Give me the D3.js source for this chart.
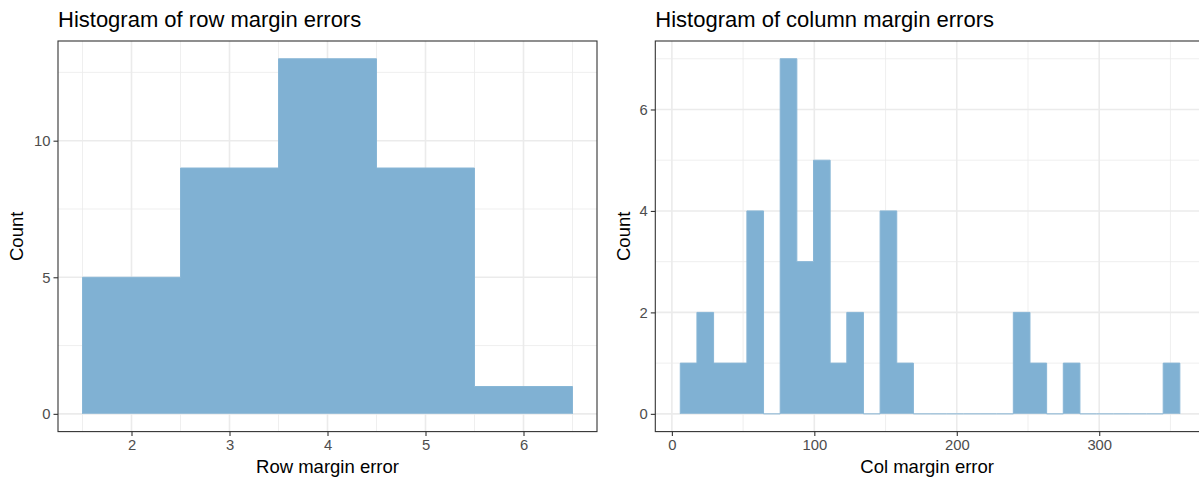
<!DOCTYPE html>
<html>
<head>
<meta charset="utf-8">
<script src="https://cdn.jsdelivr.net/npm/d3@7"></script>
<style>
  body { margin: 0; background: #fff; }
  svg { display: block; font-family: "Liberation Sans", Arial, sans-serif; }
</style>
</head>
<body>
<svg></svg>
<script>
const size = {w: 1199, h: 478};

// row margin errors: bins of width 1 centred on the integers
const rowCenters = [2, 3, 4, 5, 6];
const rowCounts = [5, 9, 13, 9, 1];
const rowXTicks = [2, 3, 4, 5, 6];
const rowYTicks = [0, 5, 10];

// column margin errors: 30 bins
const colBinStart = 5.9;
const colBinWidth = 11.69;
const colCounts = [1, 2, 1, 1, 4, 0, 7, 3, 5, 1, 2, 0, 4, 1, 0, 0, 0, 0, 0, 0, 2, 1, 0, 1, 0, 0, 0, 0, 0, 1];
const colXTicks = [0, 100, 200, 300];
const colYTicks = [0, 2, 4, 6];

const fillColor = '#80b1d3';
const svg = d3.select('svg').attr('width', size.w).attr('height', size.h);

function drawPanel(opt) {
    const g = svg.append('g');
    const x = d3.scaleLinear().domain(opt.xDomain).range([opt.left, opt.right]);
    const y = d3.scaleLinear().domain(opt.yDomain).range([opt.bottom, opt.top]);

    // grid: minor first, then major
    g.selectAll('.xminor').data(opt.xMinor).join('line')
        .attr('x1', d => x(d)).attr('x2', d => x(d))
        .attr('y1', opt.top).attr('y2', opt.bottom)
        .attr('stroke', '#ebebeb').attr('stroke-width', 0.8);
    g.selectAll('.yminor').data(opt.yMinor).join('line')
        .attr('y1', d => y(d)).attr('y2', d => y(d))
        .attr('x1', opt.left).attr('x2', opt.right)
        .attr('stroke', '#ebebeb').attr('stroke-width', 0.8);
    g.selectAll('.xmajor').data(opt.xTicks).join('line')
        .attr('x1', d => x(d)).attr('x2', d => x(d))
        .attr('y1', opt.top).attr('y2', opt.bottom)
        .attr('stroke', '#ebebeb').attr('stroke-width', 1.6);
    g.selectAll('.ymajor').data(opt.yTicks).join('line')
        .attr('y1', d => y(d)).attr('y2', d => y(d))
        .attr('x1', opt.left).attr('x2', opt.right)
        .attr('stroke', '#ebebeb').attr('stroke-width', 1.6);

    // bars as one stepped shape, so no seams between neighbouring bins
    const pts = [[opt.bins[0].x0, 0]];
    opt.bins.forEach(d => { pts.push([d.x0, d.n]); pts.push([d.x1, d.n]); });
    pts.push([opt.bins[opt.bins.length - 1].x1, 0]);

    g.append('path')
        .attr('d', d3.area().x(p => x(p[0])).y0(y(0)).y1(p => y(p[1]))(pts))
        .attr('fill', fillColor);

    // outer outline, which also marks empty bins on the baseline
    g.append('path')
        .attr('d', d3.line().x(p => x(p[0])).y(p => y(p[1]))(pts))
        .attr('fill', 'none')
        .attr('stroke', '#88b6d6')
        .attr('stroke-width', 1);

    // panel border
    g.append('rect')
        .attr('x', opt.left).attr('y', opt.top)
        .attr('width', opt.right - opt.left).attr('height', opt.bottom - opt.top)
        .attr('fill', 'none').attr('stroke', '#333333').attr('stroke-width', 1.1);

    // axes
    const xAxis = g.append('g').attr('transform', `translate(0,${opt.bottom})`)
        .call(d3.axisBottom(x).tickValues(opt.xTicks).tickSize(4.5).tickPadding(3).tickFormat(d3.format('d')));
    const yAxis = g.append('g').attr('transform', `translate(${opt.left},0)`)
        .call(d3.axisLeft(y).tickValues(opt.yTicks).tickSize(4.5).tickPadding(3).tickFormat(d3.format('d')));
    [xAxis, yAxis].forEach(a => {
        a.select('.domain').remove();
        a.selectAll('.tick line').attr('stroke', '#333333').attr('stroke-width', 1.1);
        a.selectAll('.tick text').attr('fill', '#4d4d4d').style('font-size', '14.8px')
            .style('font-family', '"Liberation Sans", Arial, sans-serif');
    });

    // titles
    svg.append('text')
        .attr('x', opt.left).attr('y', 27)
        .style('font-size', '22px').attr('fill', '#000')
        .text(opt.title);
    svg.append('text')
        .attr('x', (opt.left + opt.visibleRight) / 2).attr('y', 473)
        .attr('text-anchor', 'middle')
        .style('font-size', '18.5px').attr('fill', '#000')
        .text(opt.xLabel);
    svg.append('text')
        .attr('transform', `translate(${opt.left - opt.yTitleGap},${(opt.top + opt.bottom) / 2}) rotate(-90)`)
        .attr('text-anchor', 'middle')
        .style('font-size', '18.5px').attr('fill', '#000')
        .text('Count');
}

const rowBins = rowCenters.map((c, i) => ({x0: c - 0.5, x1: c + 0.5, n: rowCounts[i]}));
const colBins = colCounts.map((n, i) => ({
    x0: colBinStart + i * colBinWidth,
    x1: colBinStart + (i + 1) * colBinWidth,
    n: n
}));

function expand(lo, hi) {
    const pad = (hi - lo) * 0.05;
    return [lo - pad, hi + pad];
}

drawPanel({
    title: 'Histogram of row margin errors',
    xLabel: 'Row margin error',
    bins: rowBins,
    left: 58, right: 597, visibleRight: 597, top: 41, bottom: 431.6,
    yTitleGap: 35,
    xDomain: expand(rowBins[0].x0, rowBins[rowBins.length - 1].x1),
    yDomain: expand(0, d3.max(rowCounts)),
    xTicks: rowXTicks, yTicks: rowYTicks,
    xMinor: [1.5, 2.5, 3.5, 4.5, 5.5, 6.5],
    yMinor: [2.5, 7.5, 12.5]
});

const colDomain = expand(colBins[0].x0, colBins[colBins.length - 1].x1);
drawPanel({
    title: 'Histogram of column margin errors',
    xLabel: 'Col margin error',
    bins: colBins,
    left: 655.3, right: 655.3 + (colDomain[1] - colDomain[0]) * 1.4245, visibleRight: 1199,
    top: 41, bottom: 431.6,
    yTitleGap: 25,
    xDomain: colDomain,
    yDomain: expand(0, d3.max(colCounts)),
    xTicks: colXTicks, yTicks: colYTicks,
    xMinor: [50, 150, 250, 350],
    yMinor: [1, 3, 5, 7]
});
</script>
</body>
</html>
